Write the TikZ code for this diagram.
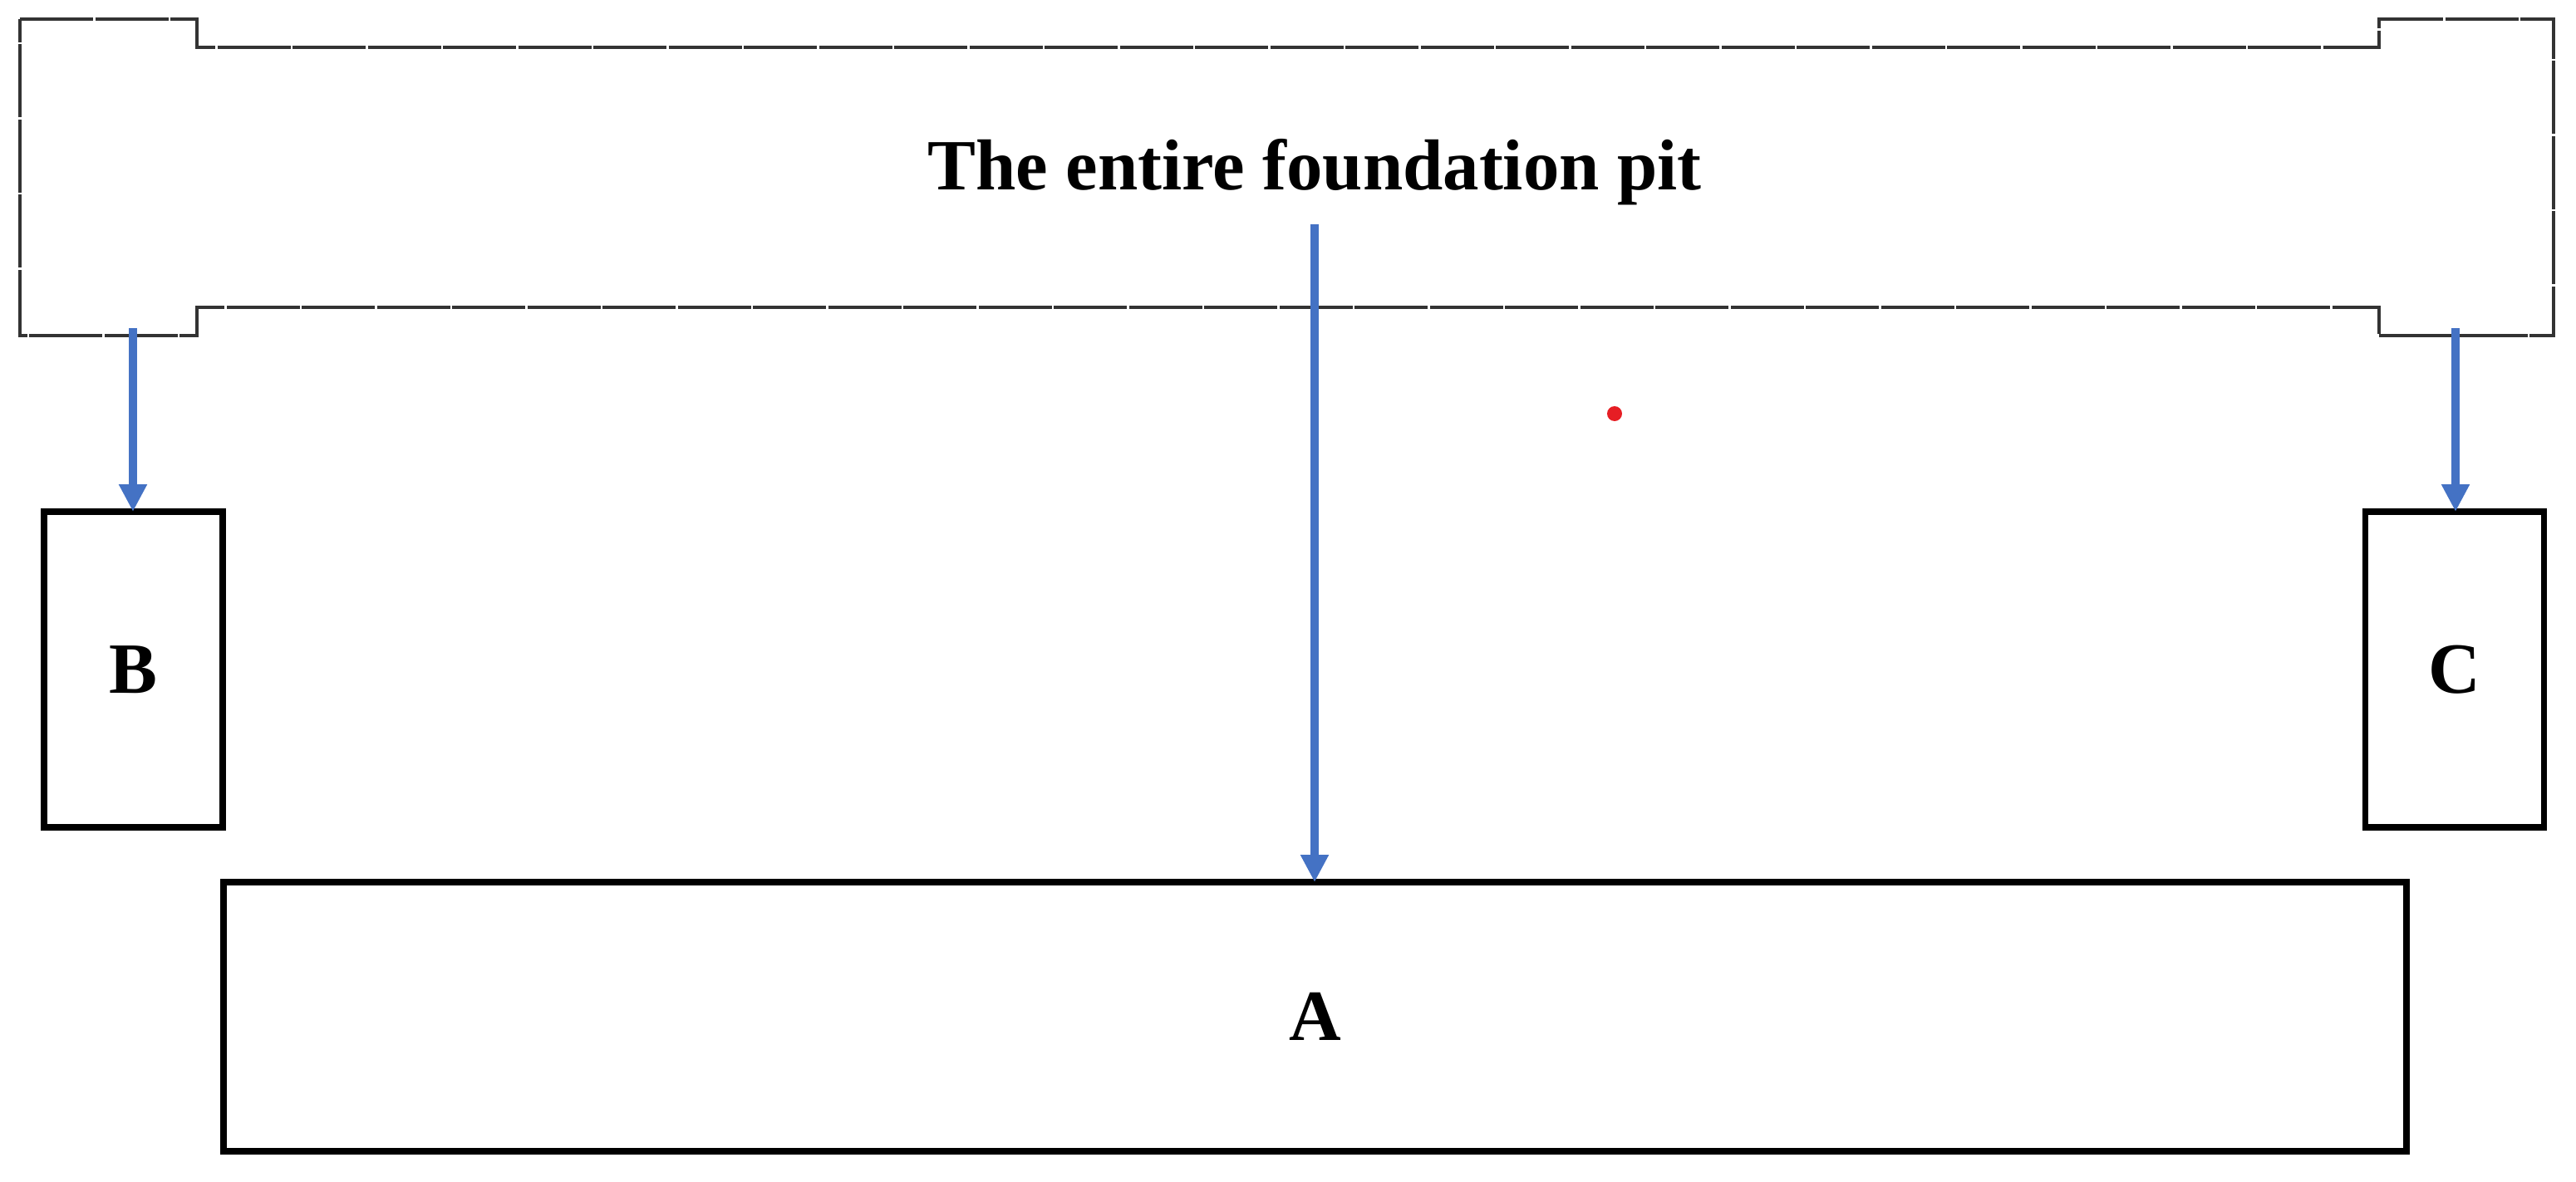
\documentclass[tikz,border=0pt]{standalone}
\usepackage{fontspec}
\setmainfont{Liberation Serif}
\usetikzlibrary{arrows.meta}

\definecolor{arrowblue}{RGB}{68,114,196}
\definecolor{dotred}{RGB}{230,30,36}

\begin{document}
\begin{tikzpicture}[
    every node/.style={font=\fontsize{24.7}{29}\selectfont\bfseries},
    box/.style={draw, line width=2.1pt, inner sep=0pt, outer sep=0pt},
    sidebox/.style={box, minimum width=2.15cm, minimum height=3.8cm},
    flow/.style={draw=arrowblue, line width=3.1pt, -{Triangle[width=0.32cm,length=0.33cm]}},
    pitline/.style={draw=black!80, line width=1.4pt, dash pattern=on 0.88cm off 0.025cm},
    ]
  \useasboundingbox (0,0) rectangle (31,-14.23);

  % outline of the pit
  \draw[pitline] (0.24,-0.23) -- (2.37,-0.23) -- (2.37,-0.57) -- (28.63,-0.57)
    -- (28.63,-0.23) -- (30.73,-0.23) -- (30.73,-4.04) -- (28.63,-4.04)
    -- (28.63,-3.70) -- (2.37,-3.70) -- (2.37,-4.04) -- (0.24,-4.04) -- cycle;
  \node[anchor=base] (pit) at (15.82,-2.28) {The entire foundation pit};

  % parts
  \node[sidebox] (B) at (1.605,-8.06) {B};
  \node[sidebox] (C) at (29.54,-8.06) {C};
  \node[box, minimum width=26.27cm, minimum height=3.24cm] (A) at (15.825,-12.24) {A};

  \coordinate (pitL) at (1.60,-3.95);
  \coordinate (pitR) at (29.55,-3.95);
  \coordinate (pitM) at (15.82,-2.70);

  \draw[flow] (pitL) -- (pitL |- B.north);
  \draw[flow] (pitR) -- (pitR |- C.north);
  \draw[flow] (pitM) -- (pitM |- A.north);

  \node[circle, fill=dotred, minimum size=0.18cm, inner sep=0pt] (dot) at (19.43,-4.98) {};
\end{tikzpicture}
\end{document}
